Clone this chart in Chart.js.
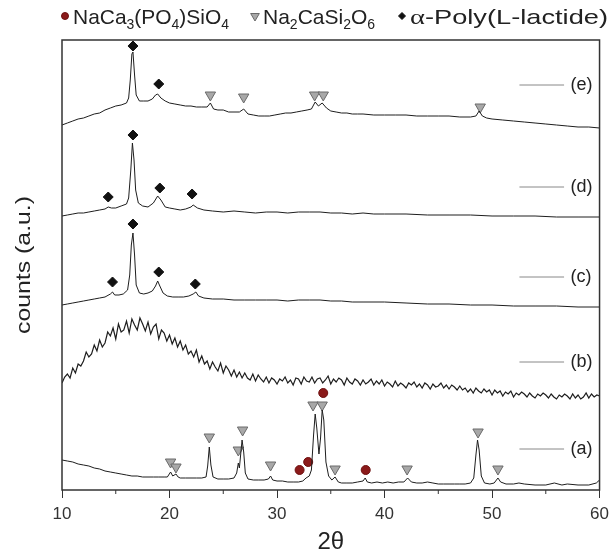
<!DOCTYPE html>
<html>
<head>
<meta charset="utf-8">
<script src="https://cdn.jsdelivr.net/npm/chart.js@4.4.1/dist/chart.umd.min.js"></script>
<style>
  html, body { margin: 0; padding: 0; background: #fff; }
  #wrap { width: 615px; height: 554px; position: relative; }
</style>
</head>
<body>
<div id="wrap"><canvas id="xrd-chart" width="615" height="554"></canvas></div>
<script>
// 2-theta range and tick labels
const xTicks = [10, 20, 30, 40, 50, 60];
const yTitle = "counts (a.u.)";

// trace (a) - bioactive glass-ceramic filler
const angleA = [10, 10.5, 11, 11.5, 12, 12.5, 13, 13.5, 14, 14.5, 15, 15.5, 16, 16.5, 17, 17.5, 18, 18.5, 19, 19.5,
  19.8, 20.1, 20.3, 20.6, 20.8, 21, 21.5, 22, 22.5, 23, 23.4, 23.55, 23.7, 23.85, 24.05, 24.5, 25, 25.5, 26, 26.25,
  26.4, 26.5, 26.75, 26.9, 27.05, 27.3, 27.8, 28.3, 28.8, 29.2, 29.4, 29.6, 30, 30.5, 31, 31.5, 32, 32.4, 32.7, 33,
  33.2, 33.4, 33.55, 33.7, 33.9, 34.05, 34.2, 34.35, 34.55, 34.8, 35.1, 35.4, 35.7, 36, 36.5, 37, 37.5, 38, 38.2,
  38.4, 38.8, 39.3, 39.8, 40.3, 40.8, 41.3, 41.8, 42.15, 42.5, 43, 43.5, 44, 44.5, 45, 45.5, 46, 46.5, 47, 47.5, 48,
  48.3, 48.5, 48.65, 48.8, 49, 49.3, 49.8, 50.2, 50.55, 50.8, 51.3, 52, 52.5, 53, 54, 55, 55.8, 56.5, 57, 58, 59, 59.7, 60];
const countsA = [30, 29, 28, 26, 25, 24, 22, 21, 19, 18, 17, 16, 15, 14, 14, 13, 13, 13, 13, 13,
  13, 18, 14, 16, 13, 12, 12, 12, 12, 12, 13, 24, 43, 25, 13, 11, 11, 11, 12, 17,
  27, 22, 50, 38, 17, 11, 10, 10, 10, 11, 14, 10, 9, 9, 8, 8, 8, 9, 12, 14,
  20, 55, 76, 62, 36, 52, 80, 70, 28, 14, 10, 13, 8, 7, 7, 7, 8, 9, 12,
  8, 7, 8, 7, 8, 7, 8, 8, 12, 8, 7, 7, 8, 7, 6, 6, 6, 6, 6, 6, 7,
  12, 35, 50, 40, 14, 7, 6, 7, 12, 8, 6, 6, 7, 6, 5, 5, 7, 5, 6, 5, 5, 7, 10];

// trace (b) - amorphous polymer, step scan 0.25 deg from 10 deg
const bStart = 10;
const bStep = 0.25;
const countsB = [
  107, 113, 116, 112, 122, 117, 126, 124, 129, 138, 133, 136, 145, 139, 150, 143, 147, 158, 154, 162,
  151, 166, 158, 160, 169, 157, 171, 165, 160, 172, 166, 159, 168, 156, 163, 166, 151, 160, 157, 149,
  155, 146, 152, 143, 149, 140, 145, 136, 139, 133, 140, 128, 134, 126, 129, 121, 128, 123, 119, 127,
  117, 124, 120, 114, 120, 113, 118, 112, 117, 112, 110, 116, 109, 115, 111, 108, 113, 107, 112, 110,
  106, 111, 109, 113, 107, 110, 105, 112, 111, 106, 113, 109, 108, 113, 107, 111, 112, 107, 110, 114,
  106, 111, 108, 112, 110, 105, 112, 108, 106, 111, 109, 105, 110, 106, 108, 111, 105, 109, 106, 110,
  104, 108, 106, 103, 109, 104, 107, 105, 102, 107, 105, 108, 103, 106, 102, 107, 105, 101, 106, 103,
  104, 107, 102, 105, 101, 105, 103, 100, 104, 100, 102, 98, 101, 97, 102, 99, 97, 101, 98, 100,
  95, 100, 97, 99, 94, 98, 96, 99, 93, 97, 95, 98, 96, 93, 97, 94, 92, 96, 94, 97,
  95, 92, 96, 93, 91, 95, 93, 96, 94, 91, 96, 92, 95, 91, 93, 97, 92, 96, 93, 95, 94];

// trace (c)
const angleC = [10, 10.5, 11, 11.5, 12, 12.5, 13, 13.5, 14, 14.5, 14.7, 14.9, 15.3, 15.7, 16.1, 16.3, 16.45, 16.6,
  16.75, 16.9, 17.2, 17.6, 18, 18.4, 18.7, 18.9, 19.1, 19.4, 19.8, 20.3, 20.8, 21.3, 21.8, 22.2, 22.45, 22.7, 23.2,
  24, 25, 26, 27, 28, 29, 30, 31, 32, 33, 34, 35, 36, 37, 38, 40, 42, 44, 46, 48, 50, 52, 54, 56, 58, 60];
const countsC = [185, 186, 187, 188, 189, 190, 191, 192, 193, 196, 198, 195, 195, 196, 200, 215, 245, 257,
  235, 205, 197, 196, 197, 199, 204, 209, 204, 197, 194, 193, 193, 193, 194, 196, 198, 194, 192,
  191, 191, 190, 190, 190, 190, 190, 189, 190, 190, 190, 189, 189, 188, 188, 188, 187, 186, 186, 185, 185, 184, 184, 184, 183, 183];

// trace (d)
const angleD = [10, 10.5, 11, 11.5, 12, 12.5, 13, 13.5, 14, 14.3, 14.6, 15, 15.5, 16, 16.2, 16.4, 16.55, 16.7,
  16.85, 17.1, 17.5, 18, 18.5, 18.9, 19.2, 19.6, 20, 20.5, 21, 21.5, 22, 22.2, 22.6, 23.2, 24, 25, 26, 27, 28,
  29, 30, 31, 32, 33, 34, 35, 36, 37, 38, 39, 40, 42, 44, 46, 48, 50, 52, 54, 56, 58, 60];
const countsD = [274, 275, 276, 277, 277, 278, 279, 280, 281, 283, 282, 282, 284, 286, 292, 320, 347, 330,
  300, 287, 284, 283, 287, 294, 290, 283, 282, 281, 280, 281, 283, 285, 282, 280, 279, 278, 279, 278, 277,
  278, 278, 277, 278, 278, 278, 277, 277, 276, 277, 276, 276, 276, 275, 275, 275, 274, 274, 274, 273, 273, 273];

// trace (e)
const angleE = [10, 10.5, 11, 11.5, 12, 12.5, 13, 13.5, 14, 14.5, 15, 15.5, 16, 16.2, 16.35, 16.5, 16.6, 16.75,
  16.9, 17.2, 17.6, 18, 18.4, 18.7, 18.9, 19.2, 19.6, 20, 20.5, 21, 21.5, 22, 22.5, 23, 23.5, 23.8, 24.1, 24.5,
  25, 25.5, 26, 26.5, 26.9, 27.3, 27.8, 28.3, 28.8, 29.3, 29.8, 30.3, 30.8, 31.3, 31.8, 32.3, 32.8, 33.2, 33.55,
  33.85, 34.2, 34.6, 35, 35.5, 36, 36.5, 37, 37.5, 38, 39, 40, 41, 42, 43, 44, 45, 46, 47, 48, 48.5, 48.8, 49.1,
  49.5, 50, 51, 52, 53, 54, 55, 56, 57, 58, 59, 60];
const countsE = [365, 367, 369, 371, 372, 374, 376, 377, 380, 382, 384, 385, 387, 392, 410, 436, 438, 415,
  395, 389, 389, 389, 391, 395, 396, 392, 389, 387, 386, 385, 384, 384, 383, 383, 383, 387, 381, 380,
  380, 378, 378, 378, 381, 376, 375, 374, 374, 374, 375, 376, 377, 377, 378, 379, 380, 381, 388,
  384, 387, 382, 379, 378, 377, 377, 376, 376, 376, 375, 375, 375, 375, 374, 374, 374, 374, 373, 373, 374, 379, 374,
  372, 371, 370, 369, 368, 367, 366, 365, 364, 363, 363, 362];

// phase markers
const phosphateAngles = [32.1, 32.9, 34.3, 38.25];
const phosphateCounts = [20, 28, 97, 20];
const silicateAngles = [20.1, 20.6, 23.7, 26.4, 26.8, 29.4, 33.35, 34.2, 35.4, 42.1, 48.7, 50.55,
  23.8, 26.9, 33.5, 34.3, 48.9];
const silicateCounts = [28, 23, 53, 40, 60, 25, 85, 85, 21, 21, 58, 21,
  395, 393, 395, 395, 383];
const plaAngles = [14.7, 16.6, 19.0, 22.4, 14.3, 16.6, 19.1, 22.1, 16.6, 19.0];
const plaCounts = [208, 266, 218, 206, 293, 355, 302, 296, 444, 406];

// curve labels
const curveNames = ["(a)", "(b)", "(c)", "(d)", "(e)"];
const curveLevels = [41, 128, 213, 303, 405];

// legend
const legendEntries = [
  [["NaCa", 0], ["3", 1], ["(PO", 0], ["4", 1], [")SiO", 0], ["4", 1]],
  [["Na", 0], ["2", 1], ["CaSi", 0], ["2", 1], ["O", 0], ["6", 1]],
  [["\u03b1", 2], ["-Poly(L-lactide)", 0]]
];

const pairs = (xs, ys) => xs.map((x, i) => ({ x: x, y: ys[i] }));
const traceB = countsB.map((y, i) => ({ x: bStart + i * bStep, y: y }));

const SANS = "'Liberation Sans', Arial, sans-serif";

function trace(data, width) {
    return {
        type: "line",
        data: data,
        borderColor: "#1e1e1e",
        borderWidth: width,
        pointRadius: 0,
        tension: 0,
        fill: false,
    };
}

function markers(data, m) {
    return {
        type: "scatter",
        data: data,
        pointStyle: m.style,
        pointRotation: m.rotation,
        backgroundColor: m.fill,
        borderColor: m.stroke,
        borderWidth: 1,
        pointRadius: m.radius,
        pointHoverRadius: m.radius,
    };
}

const markerStyles = [
    { style: "circle", fill: "#8b1a1a", stroke: "#6e1010", radius: 4.5, rotation: 0 },
    { style: "triangle", fill: "#a8a8a8", stroke: "#6a6a6a", radius: 6, rotation: 180 },
    { style: "rectRot", fill: "#111", stroke: "#111", radius: 5, rotation: 0 },
];

function partFont(kind) {
    if (kind === 1) return "14px " + SANS;
    if (kind === 2) return "22px 'Liberation Serif', serif";
    return "21px " + SANS;
}

const framePlugin = {
    id: "frame",
    afterDraw(chart) {
        const { ctx, chartArea: a, scales } = chart;
        ctx.save();
        ctx.strokeStyle = "#333";
        ctx.lineWidth = 1.5;
        ctx.strokeRect(a.left, a.top, a.right - a.left, a.bottom - a.top);
        // minor ticks
        ctx.lineWidth = 1;
        for (let v = 15; v < 60; v += 10) {
            const px = scales.x.getPixelForValue(v);
            ctx.beginPath();
            ctx.moveTo(px, a.bottom);
            ctx.lineTo(px, a.bottom + 4);
            ctx.stroke();
        }
        // curve labels
        ctx.font = "18px " + SANS;
        ctx.textBaseline = "middle";
        ctx.fillStyle = "#222";
        curveNames.forEach((name, i) => {
            const py = scales.y.getPixelForValue(curveLevels[i]);
            ctx.strokeStyle = "#888";
            ctx.beginPath();
            ctx.moveTo(scales.x.getPixelForValue(52.55), py);
            ctx.lineTo(scales.x.getPixelForValue(56.7), py);
            ctx.stroke();
            ctx.fillText(name, scales.x.getPixelForValue(57.3), py);
        });
        // y title, stretched along its length like the original
        ctx.save();
        ctx.font = "21px " + SANS;
        const tw = ctx.measureText(yTitle).width;
        ctx.translate(24, (a.top + a.bottom) / 2);
        ctx.rotate(-Math.PI / 2);
        ctx.scale(138 / tw, 1);
        ctx.textAlign = "center";
        ctx.fillStyle = "#222";
        ctx.fillText(yTitle, 0, 0);
        ctx.restore();
        // legend row (0 width = natural width)
        const starts = [65, 255, 402];
        const widths = [156, 0, 198];
        legendEntries.forEach((parts, i) => {
            const m = markerStyles[i];
            ctx.fillStyle = m.fill;
            ctx.strokeStyle = m.stroke;
            Chart.helpers.drawPoint(ctx, { pointStyle: m.style, radius: m.style === "triangle" ? 5 : 3.5, rotation: m.rotation, borderWidth: 1 }, starts[i], 16);
            let natural = 0;
            parts.forEach(([txt, kind]) => { ctx.font = partFont(kind); natural += ctx.measureText(txt).width; });
            ctx.save();
            ctx.translate(starts[i] + 8, 0);
            ctx.scale(widths[i] ? widths[i] / natural : 1, 1);
            let x = 0;
            ctx.fillStyle = "#222";
            ctx.textBaseline = "alphabetic";
            parts.forEach(([txt, kind]) => {
                ctx.font = partFont(kind);
                ctx.fillText(txt, x, kind === 1 ? 29 : 24);
                x += ctx.measureText(txt).width;
            });
            ctx.restore();
        });
        ctx.restore();
    },
};

function renderXrdChart() {
    const ctx = document.getElementById("xrd-chart").getContext("2d");
    const datasets = [
        trace(pairs(angleA, countsA), 1),
        trace(traceB, 1.2),
        trace(pairs(angleC, countsC), 1),
        trace(pairs(angleD, countsD), 1),
        trace(pairs(angleE, countsE), 1),
    ];
    [
        pairs(phosphateAngles, phosphateCounts),
        pairs(silicateAngles, silicateCounts),
        pairs(plaAngles, plaCounts),
    ].forEach((d, i) => datasets.push(markers(d, markerStyles[i])));

    new Chart(ctx, {
        data: { datasets: datasets },
        options: {
            responsive: false,
            animation: false,
            layout: { padding: { top: 40, right: 9, left: 0, bottom: 0 } },
            plugins: { legend: { display: false }, tooltip: { enabled: false } },
            scales: {
                x: {
                    type: "linear",
                    min: xTicks[0],
                    max: xTicks[xTicks.length - 1],
                    afterBuildTicks: (s) => { s.ticks = xTicks.map((v) => ({ value: v })); },
                    afterFit: (s) => { s.height = 64; },
                    ticks: { color: "#333", font: { size: 17, family: SANS }, padding: 6, maxRotation: 0 },
                    grid: { drawOnChartArea: false, tickLength: 8, color: "#333", tickColor: "#333" },
                    border: { display: false },
                    title: {
                        display: true,
                        text: "2\u03b8",
                        color: "#222",
                        font: { size: 24, family: SANS, lineHeight: 1 },
                        padding: { top: 0, bottom: 0 },
                    },
                },
                y: {
                    type: "linear",
                    min: 0,
                    max: 450,
                    afterFit: (s) => { s.width = 62; },
                    ticks: { display: false },
                    grid: { display: false },
                    border: { display: false },
                },
            },
        },
        plugins: [framePlugin],
    });
}

renderXrdChart();
</script>
</body>
</html>
